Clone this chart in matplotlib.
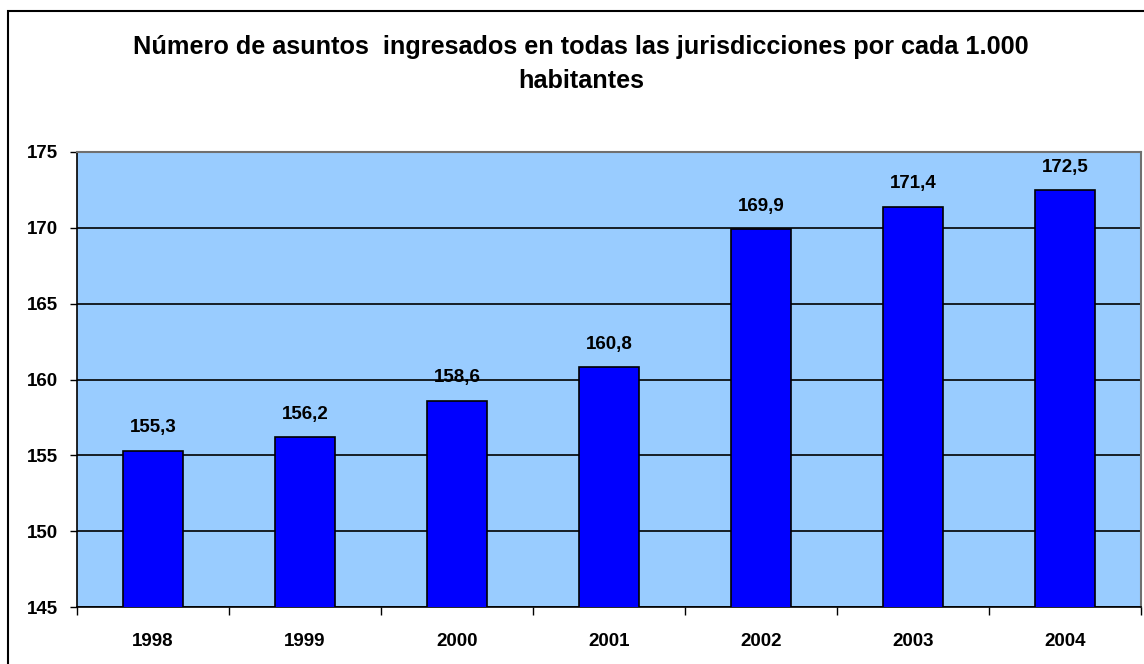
import matplotlib.pyplot as plt
from matplotlib.patches import Rectangle

plt.rcParams['font.family'] = ['Liberation Sans', 'DejaVu Sans']

years = ['1998', '1999', '2000', '2001', '2002', '2003', '2004']
values = [155.3, 156.2, 158.6, 160.8, 169.9, 171.4, 172.5]
labels = ['155,3', '156,2', '158,6', '160,8', '169,9', '171,4', '172,5']
yticks = [145, 150, 155, 160, 165, 170, 175]

W, H = 1144, 664
fig = plt.figure(figsize=(W / 100, H / 100), dpi=100)

# outer chart border (runs off the right/bottom edge like the original)
fig.patches.append(Rectangle((8 / W, -0.1), 1.2, 1 - 11 / H + 0.1,
                             transform=fig.transFigure, fill=False,
                             edgecolor='black', linewidth=1.5))

ax = fig.add_axes([77 / W, 1 - 607 / H, (1141 - 77) / W, (607 - 152) / H])
ax.set_facecolor('#99CCFF')

x = range(len(years))
ax.bar(x, values, width=0.4, bottom=0, color='#0000FF', edgecolor='black',
       linewidth=1.2, zorder=3)
for i, (v, s) in enumerate(zip(values, labels)):
    ax.text(i, v + 0.95, s, ha='center', va='bottom', fontsize=13.5,
            fontweight='bold', zorder=4)

ax.set_xlim(-0.5, len(years) - 0.5)
ax.set_ylim(145, 175)
ax.set_yticks(yticks)
ax.set_yticklabels([str(t) for t in yticks], fontsize=13.5, fontweight='bold')
ax.set_xticks(x)
ax.set_xticklabels(years, fontsize=13.5, fontweight='bold')
ax.tick_params(axis='x', length=0, pad=19)
ax.tick_params(axis='y', length=5, width=1, pad=9)
# tick marks between categories on the x axis
ax.set_xticks([i - 0.5 for i in range(len(years) + 1)], minor=True)
ax.tick_params(axis='x', which='minor', length=6, width=1, direction='out')

ax.yaxis.grid(True, color='black', linewidth=1.2, zorder=1)
ax.set_axisbelow(True)
ax.spines['top'].set_color('#707070')
ax.spines['right'].set_color('#707070')
ax.spines['top'].set_linewidth(1.5)
ax.spines['right'].set_linewidth(1.5)
ax.spines['left'].set_linewidth(1.2)
ax.spines['bottom'].set_linewidth(1.2)

fig.text(581 / W, 1 - 64 / H,
         'Número de asuntos  ingresados en todas las jurisdicciones por cada 1.000\nhabitantes',
         ha='center', va='center', fontsize=18.2, fontweight='bold', linespacing=1.5)

fig.savefig('out.png', dpi=100)
